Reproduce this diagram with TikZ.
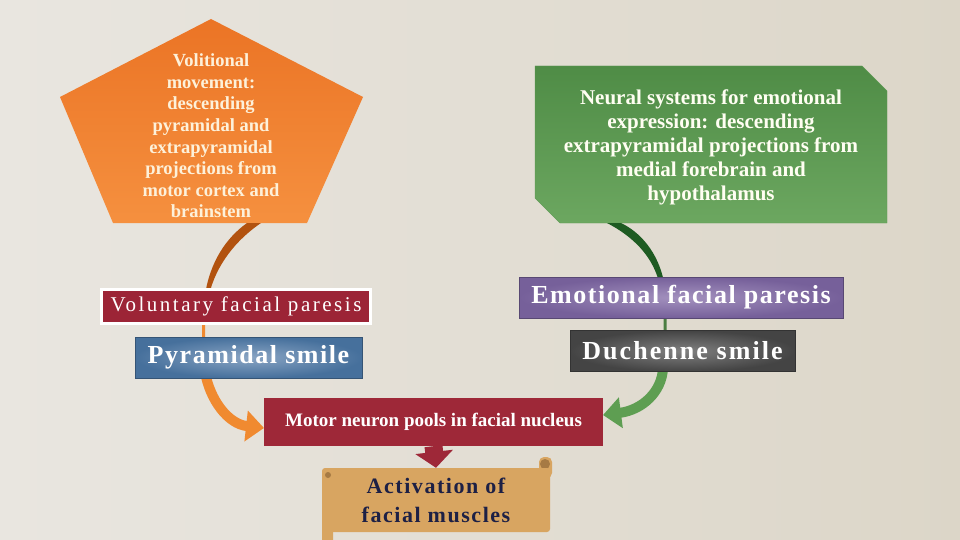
\documentclass[tikz,border=0pt]{standalone}
\usepackage{fontspec}
\setmainfont{Liberation Serif}
\usetikzlibrary{arrows.meta}
\definecolor{bgL}{HTML}{E9E6E0}
\definecolor{bgR}{HTML}{DCD6C8}
\definecolor{pentTop}{HTML}{EB7425}
\definecolor{pentBot}{HTML}{F5903F}
\definecolor{cream}{HTML}{FDF1DA}
\definecolor{grTop}{HTML}{4F8C46}
\definecolor{grBot}{HTML}{6CA760}
\definecolor{grEdge}{HTML}{5E9A54}
\definecolor{volRed}{HTML}{9C2436}
\definecolor{pyrBlue}{HTML}{46709C}
\definecolor{pyrLight}{HTML}{8AA5C4}
\definecolor{emoPurple}{HTML}{76609A}
\definecolor{emoLight}{HTML}{A391BE}
\definecolor{duchGrey}{HTML}{444444}
\definecolor{duchLight}{HTML}{808080}
\definecolor{motRed}{HTML}{9E2838}
\definecolor{scrollTan}{HTML}{D8A561}
\definecolor{scrollDark}{HTML}{A67A44}
\definecolor{navy}{HTML}{1D2045}
\definecolor{arrBrown}{HTML}{B2520F}
\definecolor{arrOrange}{HTML}{F08A30}
\definecolor{arrDkGreen}{HTML}{1E5B22}
\definecolor{arrGreen}{HTML}{5E9E52}
\newcommand{\spaced}[1]{\addfontfeature{LetterSpace=#1}}

\begin{document}
\begin{tikzpicture}[x=1pt,y=-1pt,
  lbl/.style={text=white,inner sep=0pt,align=center},
  bar/.style={lbl,draw=#1!75!black,line width=1,minimum height=41},
  thin/.style={line width=3},
  fat/.style={line width=10,-{Triangle[width=30,length=18]}}]
\useasboundingbox (0,0) rectangle (960,540);
\shade[left color=bgL,right color=bgR] (0,0) rectangle (960,540);

% the two source shapes
\shade[top color=pentTop,bottom color=pentBot] (211,19) -- (363,97) -- (307,223) -- (113,223) -- (60,97) -- cycle;
\shade[top color=grTop,bottom color=grBot,draw=grEdge] (535,66) -- (862,66) -- (887,91) -- (887,223) -- (560,223) -- (535,198) -- cycle;
\node[lbl,text=cream,font=\fontsize{18.5}{21.6}\selectfont\bfseries] (vol) at (211,136) {Volitional\\movement:\\descending\\pyramidal and\\extrapyramidal\\projections from\\motor cortex and\\brainstem};
\node[lbl,text=white!95!yellow,font=\fontsize{21}{24}\selectfont\bfseries] (emo) at (711,147) {Neural systems for emotional\\expression: descending\\extrapyramidal projections from\\medial forebrain and\\hypothalamus};
\coordinate (volbot) at (254,223);
\coordinate (emobot) at (614,223);
\coordinate (volmid) at (205,372);
\coordinate (emomid) at (663,368);

% curved connectors, behind the boxes
\fill[arrBrown] (247,223) .. controls (226,238) and (210,262) .. (205,295) -- (209,295) .. controls (216,265) and (236,240) .. (261,223) -- cycle;
\draw[thin,arrOrange] (206,290) .. controls (203,315) and (203,340) .. (volmid);
\draw[fat,arrOrange] (volmid) .. controls (210,400) and (228,424) .. ([yshift=-6]264,422);
\fill[arrDkGreen] (607,223) .. controls (632,236) and (652,255) .. (659,282) -- (664,282) .. controls (658,252) and (640,232) .. (621,223) -- cycle;
\draw[thin,arrGreen!80!black] (662,278) .. controls (666,300) and (666,340) .. (emomid);
\draw[fat,arrGreen] (emomid) .. controls (662,392) and (642,410) .. ([yshift=7]603,422);

% labelled bars
\node[lbl,fill=volRed,draw=white,line width=3,minimum width=269,minimum height=34,font=\fontsize{21}{24}\selectfont\spaced{12}] (volp) at (236,306.5) {Voluntary facial paresis};
\node[bar=pyrBlue,inner color=pyrLight,outer color=pyrBlue,minimum width=227,font=\fontsize{26}{28}\selectfont\bfseries\spaced{6}] (pyr) at (248.5,357.5) {Pyramidal smile};
\node[bar=emoPurple,inner color=emoLight,outer color=emoPurple,minimum width=324,font=\fontsize{26}{28}\selectfont\bfseries\spaced{6}] (emop) at (681,297.5) {Emotional facial paresis};
\node[bar=duchGrey,inner color=duchLight,outer color=duchGrey,minimum width=225,font=\fontsize{26}{28}\selectfont\bfseries\spaced{8}] (duch) at (682.5,351) {Duchenne smile};
\node[lbl,fill=motRed,minimum width=339,minimum height=48,font=\fontsize{19}{20}\selectfont\bfseries] (motor) at (433.5,422) {Motor neuron pools in facial nucleus};

% scroll
\fill[scrollTan,rounded corners=4] (322,520) rectangle (333,545);
\fill[scrollTan,rounded corners=5] (539,457) rectangle (552,478);
\fill[scrollDark] (545,464) circle (5);
\node[lbl,fill=scrollTan,rounded corners=3,minimum width=228,minimum height=64,text=navy,font=\fontsize{22}{29}\selectfont\bfseries\spaced{7}] (act) at (436,500) {Activation of\\facial muscles};
\fill[scrollDark] (328,475) circle (3);
\draw[motRed,line width=18,-{Triangle[width=37,length=16]}] (motor.south) -- (act.north);
\end{tikzpicture}
\end{document}
